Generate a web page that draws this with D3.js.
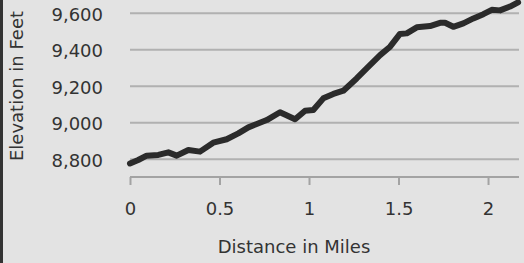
<!DOCTYPE html>
<html>
<head>
<meta charset="utf-8">
<script src="https://cdn.jsdelivr.net/npm/d3@7"></script>
<style>
  body { margin: 0; background: #e3e3e3; }
  svg { display: block; }
  text { font-family: "DejaVu Sans", Verdana, sans-serif; fill: #333; }
</style>
</head>
<body>
<div id="chart"></div>
<script>
// distance along trail (miles) and elevation (feet)
const miles = [0, 0.046, 0.093, 0.158, 0.214, 0.261, 0.326, 0.391, 0.465, 0.540,
    0.605, 0.661, 0.708, 0.764, 0.838, 0.922, 0.978, 1.024, 1.080, 1.136,
    1.192, 1.266, 1.322, 1.397, 1.453, 1.508, 1.546, 1.602, 1.676, 1.732,
    1.760, 1.806, 1.862, 1.918, 1.974, 2.021, 2.067, 2.123, 2.168];
const elevation = [8777, 8796, 8820, 8824, 8838, 8820, 8851, 8842, 8891, 8910,
    8942, 8975, 8993, 9015, 9058, 9019, 9066, 9070, 9134, 9158,
    9176, 9243, 9298, 9371, 9417, 9487, 9490, 9523, 9530, 9548,
    9548, 9526, 9545, 9572, 9595, 9619, 9616, 9637, 9660];
const yTicks = [8800, 9000, 9200, 9400, 9600];
const xTicks = [0, 0.5, 1, 1.5, 2];
const xTitle = "Distance in Miles";
const yTitle = "Elevation in Feet";

const width = 524, height = 263;
const svg = d3.select('#chart').append('svg')
    .attr('width', width)
    .attr('height', height);

// dark strip on the left edge
svg.append('rect').attr('x', 0).attr('y', 0).attr('width', 3).attr('height', height).attr('fill', '#333');

const x = d3.scaleLinear().domain([0, 2.173]).range([130, 519]);
const y = d3.scaleLinear().domain([8800, 9600]).range([159.3, 13.3]);

// gridlines
svg.append('g')
    .selectAll('line')
    .data(yTicks).enter()
    .append('line')
    .attr('x1', x(0)).attr('x2', x.range()[1])
    .attr('y1', d => y(d)).attr('y2', d => y(d))
    .attr('stroke', '#b1b1b1')
    .attr('stroke-width', 2);

// y labels
svg.append('g')
    .selectAll('text')
    .data(yTicks).enter()
    .append('text')
    .attr('x', 103)
    .attr('y', d => y(d) + 7.5)
    .attr('text-anchor', 'end')
    .style('font-size', '18px')
    .text(d => d3.format(',')(d));

// x axis
const axisY = 177;
const xAxis = svg.append('g')
    .attr('transform', 'translate(0,' + axisY + ')')
    .call(d3.axisBottom(x).tickValues(xTicks).tickSize(8).tickPadding(17).tickFormat(d3.format('')));
xAxis.select('.domain').attr('stroke', '#a3a3a3').attr('stroke-width', 2)
    .attr('d', 'M' + x(0) + ',0H' + x.range()[1]);
xAxis.selectAll('.tick line').attr('stroke', '#a3a3a3').attr('stroke-width', 2);
xAxis.selectAll('.tick text')
    .style('font-size', '18px')
    .style('font-family', '"DejaVu Sans", Verdana, sans-serif')
    .attr('fill', '#333');

// titles
svg.append('text')
    .attr('x', 294).attr('y', 253)
    .attr('text-anchor', 'middle')
    .style('font-size', '18px')
    .text(xTitle);
svg.append('text')
    .attr('transform', 'translate(23,86) rotate(-90)')
    .attr('text-anchor', 'middle')
    .style('font-size', '18px')
    .text(yTitle);

// elevation line
const line = d3.line()
    .x((d, i) => x(miles[i]))
    .y(d => y(d));
svg.append('path')
    .datum(elevation)
    .attr('d', line)
    .attr('fill', 'none')
    .attr('stroke', '#2b2b2b')
    .attr('stroke-width', 6)
    .attr('stroke-linejoin', 'round')
    .attr('stroke-linecap', 'round');
</script>
</body>
</html>
